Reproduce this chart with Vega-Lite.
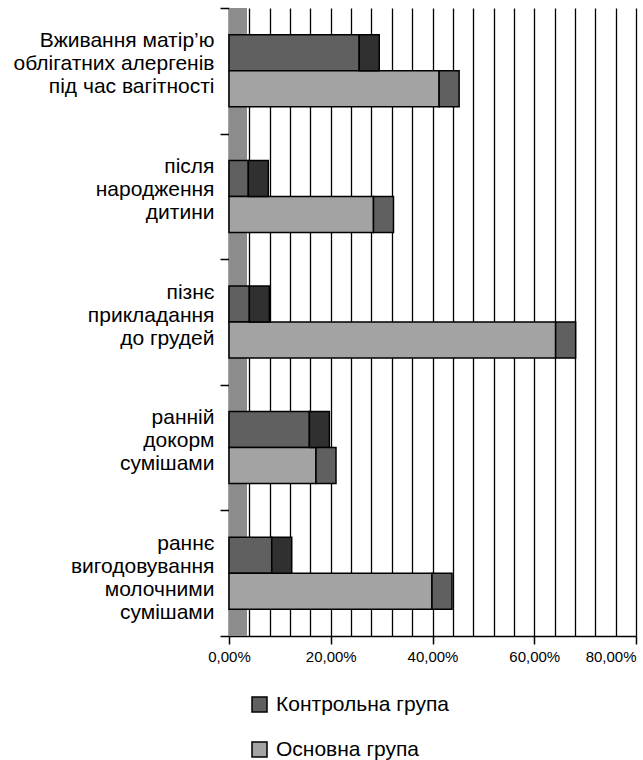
{
  "$schema": "https://vega.github.io/schema/vega-lite/v6.json",
  "autosize": "none",
  "width": 407,
  "height": 628,
  "padding": {"left": 229, "top": 8, "right": 7, "bottom": 124},
  "background": "white",
  "config": {
    "view": {"stroke": null},
    "font": "Liberation Sans",
    "axisX": {
      "title": null,
      "grid": true,
      "gridColor": "black",
      "gridWidth": 1.3,
      "labelFontSize": 15,
      "labelColor": "black",
      "labelPadding": 5,
      "labelOverlap": false,
      "labelFlush": false,
      "tickSize": 8,
      "tickColor": "black",
      "tickWidth": 1.5,
      "domainColor": "black",
      "domainWidth": 1.5
    },
    "axisY": {
      "title": null,
      "labelFontSize": 21,
      "labelLineHeight": 23,
      "labelColor": "black",
      "labelLimit": 400,
      "labelPadding": 6,
      "labelOffset": -30,
      "tickBand": "extent",
      "tickSize": 9,
      "tickColor": "black",
      "tickWidth": 1.5,
      "domainColor": "black",
      "domainWidth": 1.5
    }
  },
  "data": {
    "values": [
      {"category": "Вживання матір’ю|облігатних алергенів|під час вагітності", "group": "Контрольна група", "value": 0.256},
      {"category": "Вживання матір’ю|облігатних алергенів|під час вагітності", "group": "Основна група", "value": 0.413},
      {"category": "після|народження|дитини", "group": "Контрольна група", "value": 0.038},
      {"category": "після|народження|дитини", "group": "Основна група", "value": 0.284},
      {"category": "пізнє|прикладання|до грудей", "group": "Контрольна група", "value": 0.040},
      {"category": "пізнє|прикладання|до грудей", "group": "Основна група", "value": 0.642},
      {"category": "ранній|докорм|сумішами", "group": "Контрольна група", "value": 0.158},
      {"category": "ранній|докорм|сумішами", "group": "Основна група", "value": 0.171},
      {"category": "раннє|вигодовування|молочними|сумішами", "group": "Контрольна група", "value": 0.084},
      {"category": "раннє|вигодовування|молочними|сумішами", "group": "Основна група", "value": 0.399}
    ]
  },
  "layer": [
    {
      "mark": {"type": "rect", "fill": "#8c8c8c"},
      "encoding": {
        "x": {
          "datum": 0, "type": "quantitative",
          "scale": {"domain": [0, 0.8], "nice": false},
          "axis": {
            "values": [0, 0.04, 0.08, 0.12, 0.16, 0.2, 0.24, 0.28, 0.32, 0.36, 0.4, 0.44, 0.48, 0.52, 0.56, 0.6, 0.64, 0.68, 0.72, 0.76, 0.8],
            "labelExpr": "round(datum.value*100) % 20 === 0 ? replace(format(datum.value, '.2%'), '.', ',') : ''",
            "labelAlign": {"condition": {"test": "datum.value > 0.79", "value": "right"}, "value": "center"},
            "tickOpacity": {"condition": {"test": "round(datum.value*100) % 20 === 0", "value": 1}, "value": 0}
          }
        },
        "x2": {"datum": 0.035}
      }
    },
    {
      "mark": {"type": "bar", "stroke": "black", "strokeWidth": 1.5},
      "encoding": {
        "y": {
          "field": "category", "type": "nominal", "sort": null,
          "scale": {"paddingInner": 0, "paddingOuter": 0},
          "axis": {"labelExpr": "split(datum.label, '|')", "labelOffset": -30}
        },
        "yOffset": {"field": "group", "sort": ["Контрольна група", "Основна група"], "scale": {"paddingInner": 0, "paddingOuter": 0.745}},
        "x": {
          "field": "value", "type": "quantitative",
          "scale": {"domain": [0, 0.8], "nice": false},
          "axis": {
            "values": [0, 0.04, 0.08, 0.12, 0.16, 0.2, 0.24, 0.28, 0.32, 0.36, 0.4, 0.44, 0.48, 0.52, 0.56, 0.6, 0.64, 0.68, 0.72, 0.76, 0.8],
            "labelExpr": "round(datum.value*100) % 20 === 0 ? replace(format(datum.value, '.2%'), '.', ',') : ''",
            "labelAlign": {"condition": {"test": "datum.value > 0.79", "value": "right"}, "value": "center"},
            "tickOpacity": {"condition": {"test": "round(datum.value*100) % 20 === 0", "value": 1}, "value": 0}
          }
        },
        "color": {
          "field": "group", "type": "nominal",
          "scale": {"domain": ["Контрольна група", "Основна група"], "range": ["#606060", "#a3a3a3"]},
          "legend": {
            "title": null,
            "orient": "none",
            "direction": "vertical",
            "legendX": 20,
            "legendY": 686,
            "padding": 0,
            "symbolType": "square",
            "symbolSize": 225,
            "symbolStrokeColor": "black",
            "symbolStrokeWidth": 1.5,
            "labelFontSize": 21,
            "labelLimit": 300,
            "labelColor": "black",
            "labelOffset": 6,
            "rowPadding": 23
          }
        }
      }
    },
    {
      "mark": {"type": "bar", "stroke": "black", "strokeWidth": 1.5, "x2Offset": 20},
      "encoding": {
        "y": {
          "field": "category", "type": "nominal", "sort": null,
          "axis": {"labelExpr": "split(datum.label, '|')", "labelOffset": -30}
        },
        "yOffset": {"field": "group", "sort": ["Контрольна група", "Основна група"]},
        "x": {
          "field": "value", "type": "quantitative",
          "axis": {
            "values": [0, 0.04, 0.08, 0.12, 0.16, 0.2, 0.24, 0.28, 0.32, 0.36, 0.4, 0.44, 0.48, 0.52, 0.56, 0.6, 0.64, 0.68, 0.72, 0.76, 0.8],
            "labelExpr": "round(datum.value*100) % 20 === 0 ? replace(format(datum.value, '.2%'), '.', ',') : ''",
            "labelAlign": {"condition": {"test": "datum.value > 0.79", "value": "right"}, "value": "center"},
            "tickOpacity": {"condition": {"test": "round(datum.value*100) % 20 === 0", "value": 1}, "value": 0}
          }
        },
        "x2": {"field": "value"},
        "fill": {"condition": {"test": "datum.group === 'Контрольна група'", "value": "#303030"}, "value": "#606060"}
      }
    }
  ]
}
